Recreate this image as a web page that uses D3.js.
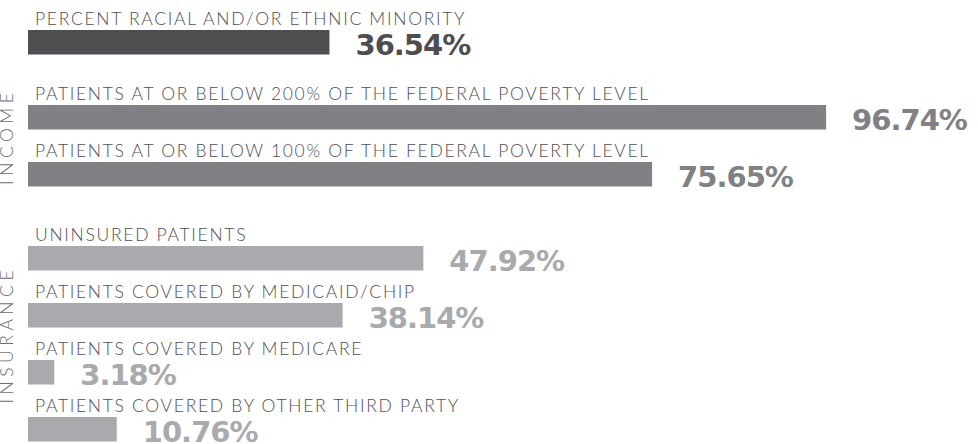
<!DOCTYPE html>
<html>
<head>
<meta charset="utf-8">
<script src="https://cdn.jsdelivr.net/npm/d3@7"></script>
<style>
    body { margin: 0; background: #ffffff; }
    svg { display: block; }
</style>
</head>
<body>
<div id="chart"></div>
<script>
    // ============================================================
    // Data
    // ============================================================
    var categories = [
        "PERCENT RACIAL AND/OR ETHNIC MINORITY",
        "PATIENTS AT OR BELOW 200% OF THE FEDERAL POVERTY LEVEL",
        "PATIENTS AT OR BELOW 100% OF THE FEDERAL POVERTY LEVEL",
        "UNINSURED PATIENTS",
        "PATIENTS COVERED BY MEDICAID/CHIP",
        "PATIENTS COVERED BY MEDICARE",
        "PATIENTS COVERED BY OTHER THIRD PARTY"
    ];
    var values = [36.54, 96.74, 75.65, 47.92, 38.14, 3.18, 10.76];
    var groups = ["", "INCOME", "INCOME", "INSURANCE", "INSURANCE", "INSURANCE", "INSURANCE"];
    var groupNames = ["", "INCOME", "INSURANCE"];

    // ============================================================
    // Layout
    // ============================================================
    var iWidth = 978, iHeight = 444;
    var barH = 24.5;
    var rowPitch = 57;
    var groupGap = { "": 0, "INCOME": 18, "INSURANCE": 45 };
    var colors = { "": "#4e4e50", "INCOME": "#808184", "INSURANCE": "#a8aaad" };

    var svg = d3.select("#chart").append("svg")
        .attr("width", iWidth)
        .attr("height", iHeight);

    var x = d3.scaleLinear().domain([0, 100]).range([28, 853]);
    var rowY = d3.scaleLinear().domain([0, 1]).range([30, 30 + rowPitch]);

    var rows = categories.map(function (c, i) {
        return { label: c, value: values[i], group: groups[i], y: rowY(i) + groupGap[groups[i]] };
    });

    var row = svg.selectAll("g.row")
        .data(rows)
        .enter()
        .append("g")
        .attr("class", "row")
        .attr("transform", function (d) { return "translate(0," + d.y + ")"; });

    // category label above each bar
    row.append("text")
        .attr("x", 35)
        .attr("y", -5)
        .style("font-family", "Lato, sans-serif")
        .style("font-weight", 300)
        .style("font-size", "17.5px")
        .style("letter-spacing", "1.7px")
        .style("fill", "#4f5052")
        .text(function (d) { return d.label; });

    row.append("rect")
        .attr("x", x(0))
        .attr("y", 0)
        .attr("width", function (d) { return x(d.value) - x(0); })
        .attr("height", barH)
        .style("fill", function (d) { return colors[d.group]; });

    // value to the right of the bar
    row.append("text")
        .attr("x", function (d) { return x(d.value) + 26; })
        .attr("y", barH + 0.5)
        .style("font-family", "'DejaVu Sans', sans-serif")
        .style("font-weight", 700)
        .style("font-size", "29px")
        .style("letter-spacing", "-1px")
        .style("fill", function (d) { return colors[d.group]; })
        .text(function (d) { return d.value.toFixed(2) + "%"; });

    // side group labels, centred on the group's extent
    groupNames.filter(function (g) { return g !== ""; }).forEach(function (g) {
        var members = rows.filter(function (d) { return d.group === g; });
        var top = d3.min(members, function (d) { return d.y; }) - 18;
        var bottom = d3.max(members, function (d) { return d.y; }) + barH;
        var cy = (top + bottom) / 2;
        svg.append("text")
            .attr("transform", "translate(13," + cy + ") rotate(-90)")
            .attr("text-anchor", "middle")
            .style("font-family", "Lato, sans-serif")
            .style("font-weight", 300)
            .style("font-size", "17.5px")
            .style("letter-spacing", "4.5px")
            .style("fill", "#6d6e71")
            .text(g);
    });
</script>
</body>
</html>
